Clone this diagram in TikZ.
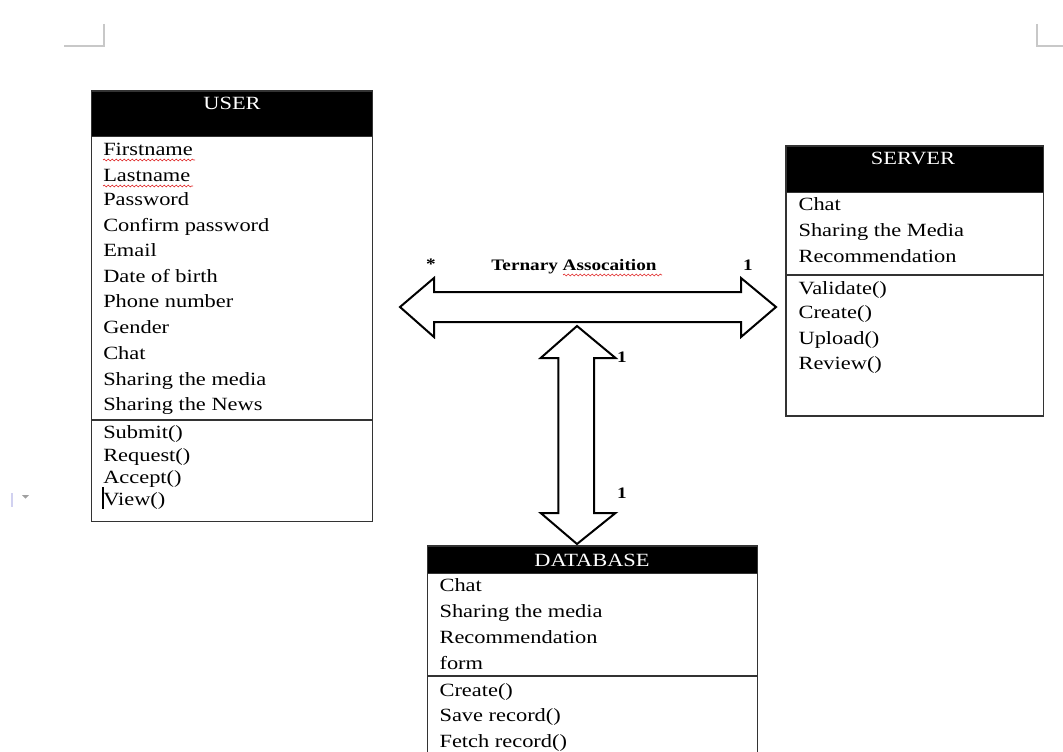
\documentclass[tikz,border=0pt]{standalone}
\usepackage{fontspec}
\setmainfont{Liberation Serif}[FakeStretch=1.2]
\usetikzlibrary{decorations.pathmorphing}
\definecolor{boxline}{HTML}{333333}
\definecolor{markgray}{HTML}{C8C8C8}
\definecolor{wavyred}{HTML}{E03030}
\tikzset{
  txt/.style={anchor=base west, inner sep=0pt, font=\fontsize{14}{16}\selectfont},
  ttl/.style={anchor=base, inner sep=0pt, text=white, font=\fontsize{14}{16}\selectfont},
  lbl/.style={anchor=base, inner sep=0pt, font=\fontsize{12}{14}\selectfont\bfseries},
  boxborder/.style={draw=boxline, line width=1.1pt},
  header/.style={fill=black, draw=boxline, line width=1.1pt},
  sepline/.style={draw=boxline, line width=0.9pt},
  blockarrow/.style={draw=black, line width=1.5pt, fill=white, line join=miter},
  wavy/.style={draw=wavyred, line width=0.5pt, decorate, decoration={snake, amplitude=0.7pt, segment length=3pt}},
  cornermark/.style={draw=markgray, line width=1.1pt}
}
\begin{document}
\begin{tikzpicture}[x=0.75pt, y=-0.75pt]
\useasboundingbox (0,0) rectangle (1063,752);

% page corner marks
\draw[cornermark] (104,24) -- (104,46) -- (64,46);
\draw[cornermark] (1037,24) -- (1037,46) -- (1063,46);
% left margin artifact
\draw[draw=markgray!70!blue!40, line width=1.2pt] (12,493) -- (12,507);
\fill[markgray!80!black] (22,495) -- (29,495) -- (25.5,498.5) -- cycle;

% ---------------- USER ----------------
\coordinate (userNW) at (91.7,91);
\coordinate (userSE) at (372.3,521.7);
\draw[header] (91.7,91) rectangle (372.3,136.7);
\draw[boxborder] (userNW) rectangle (userSE);
\draw[sepline] (91.7,420) -- (372.3,420);
\node[ttl] (userT) at (232,110) {USER};
\node[txt] (u1) at (103,155.7) {Firstname};
\node[txt] (u2) at (103,181.7) {Lastname};
\node[txt] (u3) at (103,205.7) {Password};
\node[txt] (u4) at (103,231.7) {Confirm password};
\node[txt] (u5) at (103,256.7) {Email};
\node[txt] (u6) at (103,282.3) {Date of birth};
\node[txt] (u7) at (103,307.7) {Phone number};
\node[txt] (u8) at (103,333.3) {Gender};
\node[txt] (u9) at (103,359) {Chat};
\node[txt] (u10) at (103,385) {Sharing the media};
\node[txt] (u11) at (103,410.7) {Sharing the News};
\node[txt] (um1) at (103,438.3) {Submit()};
\node[txt] (um2) at (103,461) {Request()};
\node[txt] (um3) at (103,483.3) {Accept()};
\node[txt] (um4) at (103,505) {View()};
\draw[wavy] (103,160) -- (195,160);
\draw[wavy] (103,186) -- (193,186);
\draw[black, line width=1.3pt] (103.3,487) -- (103.3,509);

% ---------------- SERVER ----------------
\coordinate (servNW) at (786,146);
\coordinate (servSE) at (1043.3,416);
\draw[header] (786,146) rectangle (1043.3,192.7);
\draw[boxborder] (servNW) rectangle (servSE);
\draw[sepline] (786,275) -- (1043.3,275);
\node[ttl] (servT) at (913,165) {SERVER};
\node[txt] (s1) at (798.3,210.7) {Chat};
\node[txt] (s2) at (798.3,236.7) {Sharing the Media};
\node[txt] (s3) at (798.3,262.7) {Recommendation};
\node[txt] (sm1) at (798.3,294) {Validate()};
\node[txt] (sm2) at (798.3,318.3) {Create()};
\node[txt] (sm3) at (798.3,344) {Upload()};
\node[txt] (sm4) at (798.3,369.3) {Review()};

% ---------------- DATABASE ----------------
\coordinate (dbNW) at (427.3,546);
\coordinate (dbNE) at (757.3,546);
\draw[header] (427.3,546) rectangle (757.3,573.3);
\draw[boxborder] (427.3,753) -- (dbNW) -- (dbNE) -- (757.3,753);
\draw[sepline] (427.3,676) -- (757.3,676);
\node[ttl] (dbT) at (592,566) {DATABASE};
\node[txt] (d1) at (439.3,591.3) {Chat};
\node[txt] (d2) at (439.3,617.3) {Sharing the media};
\node[txt] (d3) at (439.3,643) {Recommendation};
\node[txt] (d4) at (439.3,669) {form};
\node[txt] (dm1) at (439.3,696) {Create()};
\node[txt] (dm2) at (439.3,721) {Save record()};
\node[txt] (dm3) at (439.3,747) {Fetch record()};

% ---------------- block arrows ----------------
\coordinate (hL) at (400,307);
\coordinate (hR) at (776,307);
\draw[blockarrow] (hL) -- (434,278) -- (434,292) -- (741,292) -- (741,278) -- (hR)
  -- (741,337) -- (741,322) -- (434,322) -- (434,337) -- cycle;
\coordinate (vT) at (577,326);
\coordinate (vB) at (577,544);
\draw[blockarrow] (vT) -- (615.5,358) -- (594,358) -- (594,513) -- (615.5,513) -- (vB)
  -- (540.7,513) -- (558.3,513) -- (558.3,358) -- (540.7,358) -- cycle;

% ---------------- labels ----------------
\node[lbl] (star) at (431,270) {*};
\node[lbl] (assoc) at (574,270.7) {Ternary Assocaition};
\draw[wavy] (563,275) -- (662,275);
\node[lbl] (mR) at (748,270.7) {1};
\node[lbl] (mVT) at (622,362) {1};
\node[lbl] (mVB) at (622,498) {1};
\end{tikzpicture}
\end{document}
